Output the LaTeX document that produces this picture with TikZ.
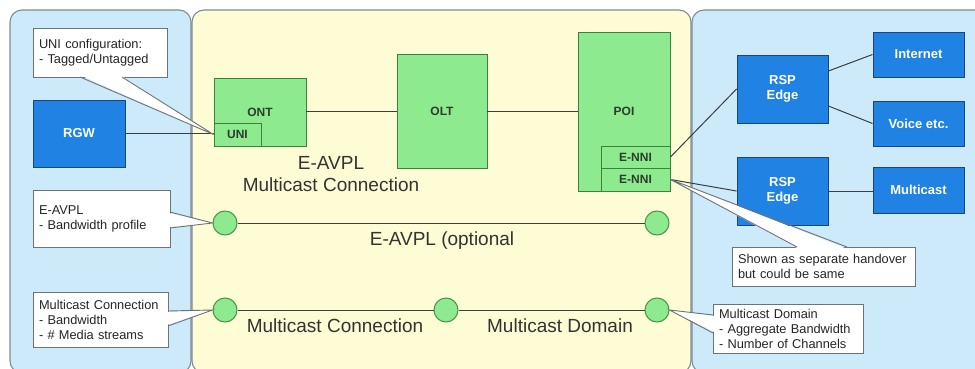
\documentclass[tikz,border=0pt]{standalone}
\usepackage{fontspec}
\setmainfont{Liberation Sans}
\usetikzlibrary{calc}

\definecolor{panelblue}{RGB}{205,234,250}
\definecolor{panelyellow}{RGB}{253,252,212}
\definecolor{paneledge}{RGB}{125,140,150}
\definecolor{greenfill}{RGB}{142,234,142}
\definecolor{greenedge}{RGB}{60,130,60}
\definecolor{greentext}{RGB}{45,60,45}
\definecolor{bluefill}{RGB}{32,130,226}
\definecolor{blueedge}{RGB}{25,70,130}
\definecolor{calloutedge}{RGB}{110,115,120}
\definecolor{linkgray}{RGB}{60,62,64}
\definecolor{dotedge}{RGB}{70,150,70}

\begin{document}
\begin{tikzpicture}[x=1pt,y=-1pt,
  panel/.style={draw=paneledge, line width=1.1pt, rounded corners=12pt},
  greenbox/.style={draw=greenedge, fill=greenfill, line width=0.9pt, inner sep=0pt,
    text=greentext, font=\fontsize{12}{14}\selectfont\bfseries},
  bluebox/.style={draw=blueedge, fill=bluefill, line width=0.9pt, inner sep=0pt,
    text=white, align=center, font=\fontsize{13}{15}\selectfont\bfseries},
  callout/.style={draw=calloutedge, fill=white, line width=0.9pt, inner xsep=6pt,
    inner ysep=0pt, align=left, text=black!85, font=\fontsize{12.8}{15}\selectfont},
  pointer/.style={draw=calloutedge, line width=0.9pt},
  bigtext/.style={text=black!80, align=center, font=\fontsize{19}{22}\selectfont},
  dot/.style={circle, draw=dotedge, fill=greenfill, minimum size=24pt, inner sep=0pt,
    line width=1pt},
  link/.style={draw=linkgray, line width=1pt}]

\useasboundingbox (0,0) rectangle (975,369);
\clip (0,0) rectangle (975,369);
\fill[white] (0,0) rectangle (975,369);

% three domains: customer premises, access network, service providers
\draw[panel, fill=panelblue]   (10,10)  rectangle (191,373);
\draw[panel, fill=panelyellow] (192,10) rectangle (691,373);
\draw[panel, fill=panelblue]   (692,10) rectangle (1000,373);

% customer premises
\node[bluebox, minimum width=92pt, minimum height=67pt] (rgw) at (79,133.5) {RGW};

% access network equipment
\node[greenbox, minimum width=92pt, minimum height=68pt] (ont) at (260,112) {ONT};
\node[greenbox, minimum width=47pt, minimum height=23pt] (uni) at (237.5,134.5) {UNI};
\node[greenbox, minimum width=90pt, minimum height=114pt] (olt) at (442,111) {OLT};
\node[greenbox, minimum width=92pt, minimum height=159pt] (poi) at (624,111.5) {POI};
\node[greenbox, minimum width=69pt, minimum height=22pt] (enni1) at (635.5,157) {E-NNI};
\node[greenbox, minimum width=69pt, minimum height=23pt] (enni2) at (635.5,179.5) {E-NNI};

% service provider side
\node[bluebox, minimum width=91pt, minimum height=68pt] (rsp1) at (782.5,89) {RSP\\Edge};
\node[bluebox, minimum width=91pt, minimum height=45pt] (inet) at (918.5,54.5) {Internet};
\node[bluebox, minimum width=91pt, minimum height=45pt] (voice) at (918.5,123.5) {Voice etc.};
\node[bluebox, minimum width=91pt, minimum height=68pt] (rsp2) at (782.5,191) {RSP\\Edge};
\node[bluebox, minimum width=91pt, minimum height=46pt] (mcast) at (918.5,190) {Multicast};

% physical links
\draw[link] (rgw.east) -- (rgw.east -| uni.west);
\draw[link] (ont.east |- olt.west) -- (olt.west);
\draw[link] (olt.east) -- (olt.east -| poi.west);
\draw[link] (enni1.east) -- (rsp1.west);
\draw[link] (enni2.east) -- (rsp2.west);
\draw[link] ([yshift=18pt]rsp1.east) -- (inet.west);
\draw[link] ([yshift=-17pt]rsp1.east) -- (voice.west);
\draw[link] (rsp2.east) -- (rsp2.east -| mcast.west);

% logical connections
\node[dot] (ea1) at (225,223) {};
\node[dot] (ea2) at (657,223) {};
\node[dot] (mc1) at (225,310) {};
\node[dot] (mc2) at (446,310) {};
\node[dot] (mc3) at (657,310) {};
\draw[link] (ea1) -- (ea2);
\draw[link] (mc1) -- (mc2) -- (mc3);

\node[bigtext] (evcl) at (331,174) {E-AVPL\\Multicast Connection};
\node[bigtext] (eopt) at (442,241) {E-AVPL (optional};
\node[bigtext] (mcl) at (335,326) {Multicast Connection};
\node[bigtext] (mdl) at (560,326) {Multicast Domain};

% annotations
\node[callout, text width=122pt, minimum height=49pt] (cuni) at (100,52.5)
  {UNI configuration:\\- Tagged/Untagged};
\fill[white] (81,75.5) -- (uni.west) -- (121,75.5) -- cycle;
\draw[pointer] (80,77) -- (uni.west) -- (122,77);

\node[callout, text width=125pt, minimum height=57pt] (cea) at (101.5,218.5)
  {E-AVPL\\- Bandwidth profile};
\fill[white] (168.5,213) -- (ea1.west) -- (168.5,227) -- cycle;
\draw[pointer] (170,212) -- (ea1.west) -- (170,228);

\node[callout, text width=123pt, minimum height=55pt] (cmc) at (100.5,319.5)
  {Multicast Connection\\- Bandwidth\\- \# Media streams};
\fill[white] (166.5,312) -- (mc1.west) -- (166.5,325) -- cycle;
\draw[pointer] (168,311) -- (mc1.west) -- (168,326);

\node[callout, text width=171pt, minimum height=39pt] (cho) at (823.5,266.5)
  {Shown as separate handover\\but could be same};
\fill[white] (798,248.5) -- (enni2.east) -- (846,248.5) -- cycle;
\draw[pointer] (797,247) -- (enni2.east) -- (847,247);

\node[callout, text width=138pt, minimum height=49pt] (cmd) at (788,328.5)
  {Multicast Domain\\- Aggregate Bandwidth\\- Number of Channels};
\fill[white] (714.5,316) -- (mc3.east) -- (714.5,332) -- cycle;
\draw[pointer] (713,315) -- (mc3.east) -- (713,333);

\end{tikzpicture}
\end{document}
